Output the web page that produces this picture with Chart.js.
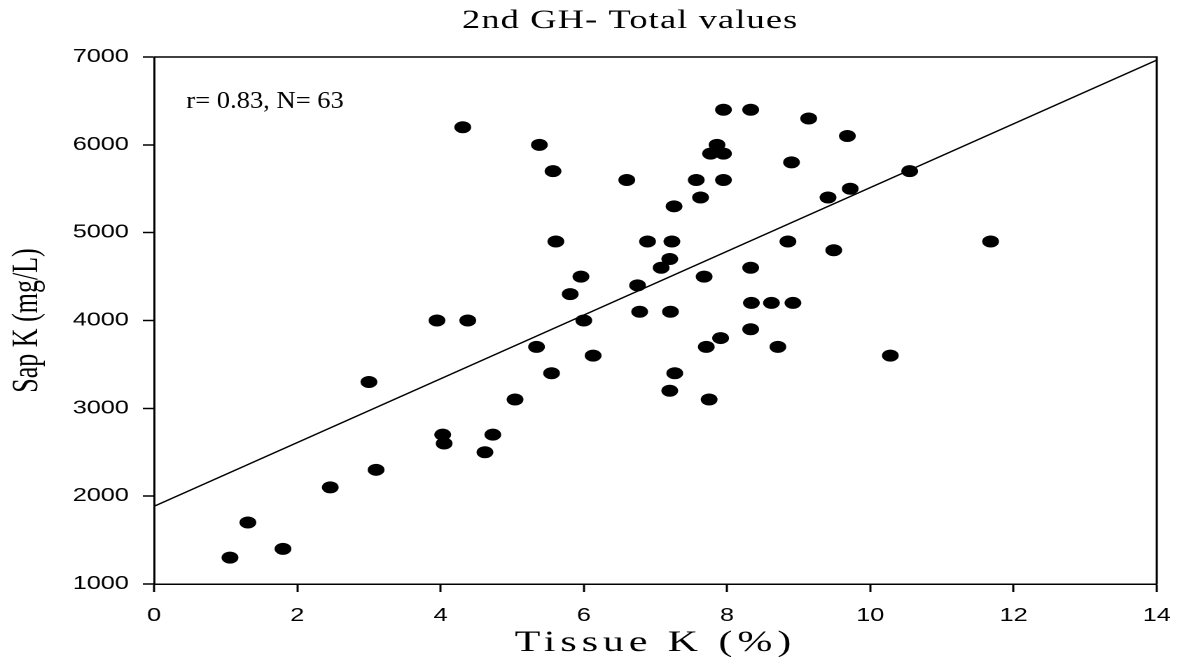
<!DOCTYPE html>
<html>
<head>
<meta charset="utf-8">
<script src="https://cdn.jsdelivr.net/npm/chart.js@4/dist/chart.umd.min.js"></script>
<style>
  html, body { margin: 0; padding: 0; background: #fff; overflow: hidden; }
  /* the original figure is stretched sideways, so draw narrow and scale x */
  #wrap { width: 849px; height: 657px; transform: scaleX(1.40047); transform-origin: 0 0; }
</style>
</head>
<body>
<div id="wrap"><canvas id="chart"></canvas></div>
<script>
// Tissue K (%) and Sap K (mg/L)
var tissueK = [1.06, 1.31, 1.80, 2.46, 3.10, 3.00, 3.95, 4.38, 4.31, 4.03, 4.05, 4.73, 4.62, 5.04, 5.38, 5.57,
  5.61, 5.34, 5.55, 5.81, 5.96, 6.00, 6.13, 6.60, 6.75, 6.78, 6.89, 7.08, 7.20, 7.23, 7.26, 7.21,
  7.20, 7.27, 7.57, 7.63, 7.68, 7.71, 7.75, 7.77, 7.86, 7.95, 7.95, 7.95, 7.91, 8.33, 8.33, 8.34,
  8.33, 8.62, 8.71, 8.85, 8.90, 8.92, 9.14, 9.41, 9.49, 9.68, 9.72, 10.28, 10.55, 11.68];
var sapK = [1300, 1700, 1400, 2100, 2300, 3300, 4000, 4000, 6200, 2700, 2600, 2700, 2500, 3100, 6000, 5700,
  4900, 3700, 3400, 4300, 4500, 4000, 3600, 5600, 4400, 4100, 4900, 4600, 4700, 4900, 5300, 4100,
  3200, 3400, 5600, 5400, 4500, 3700, 3100, 5900, 6000, 5900, 5600, 6400, 3800, 6400, 4600, 4200,
  3900, 4200, 3700, 4900, 5800, 4200, 6300, 5400, 4800, 6100, 5500, 3600, 5700, 4900];

// regression line end points
var fitX = [0, 14];
var fitY = [1885, 6965];

var xTickValues = [0, 2, 4, 6, 8, 10, 12, 14];
var yTickValues = [1000, 2000, 3000, 4000, 5000, 6000, 7000];

var titleText = "2nd GH- Total values";
var xTitleText = "Tissue K (%)";
var yTitleText = "Sap K (mg/L)";
var noteText = "r= 0.83, N= 63";

var serif = "'Liberation Serif', 'Times New Roman', serif";
var sans = "'Liberation Sans', Arial, sans-serif";

var points = tissueK.map(function (v, i) { return { x: v, y: sapK[i] }; });
var fitLine = fitX.map(function (v, i) { return { x: v, y: fitY[i] }; });

// title, x title, note and the box round the plot
var extraText = {
  id: "extraText",
  afterDraw: function (chart) {
    var ctx = chart.ctx;
    var a = chart.chartArea;
    ctx.save();
    ctx.strokeStyle = "#000";
    ctx.lineWidth = 1.5;
    ctx.beginPath();
    ctx.moveTo(a.left, a.top);
    ctx.lineTo(a.right, a.top);
    ctx.lineTo(a.right, a.bottom);
    ctx.stroke();

    ctx.fillStyle = "#000";
    ctx.textBaseline = "alphabetic";

    ctx.textAlign = "center";
    ctx.font = "26px " + serif;
    ctx.letterSpacing = "0.8px";
    ctx.fillText(titleText, 450, 28);

    ctx.font = "30px " + serif;
    ctx.letterSpacing = "3.5px";
    ctx.fillText(xTitleText, (a.left + a.right) / 2, 651);

    // the note is not stretched in the original, undo part of the x scale
    ctx.textAlign = "left";
    ctx.font = "24px " + serif;
    ctx.letterSpacing = "0px";
    ctx.translate(133, 108);
    ctx.scale(0.79, 1);
    ctx.fillText(noteText, 0, 0);
    ctx.restore();
  }
};

var config = {
  type: "scatter",
  data: {
    datasets: [{
      label: "data",
      data: points,
      backgroundColor: "#000",
      borderWidth: 0,
      pointRadius: 6,
      pointHoverRadius: 6,
      order: 1
    },
    {
      type: "line",
      label: "fit",
      data: fitLine,
      borderColor: "#000",
      borderWidth: 1.3,
      pointRadius: 0,
      fill: false,
      order: 2
    }]
  },
  options: {
    responsive: true,
    maintainAspectRatio: false,
    animation: false,
    devicePixelRatio: 2,
    layout: { padding: { left: 0, right: 15, top: 57, bottom: 0 } },
    plugins: {
      legend: { display: false },
      tooltip: { enabled: false },
      title: { display: false }
    },
    scales: {
      x: {
        type: "linear",
        min: 0,
        max: 14,
        afterBuildTicks: function (s) { s.ticks = xTickValues.map(function (v) { return { value: v }; }); },
        afterFit: function (s) { s.height = 73; },
        grid: { display: true, drawOnChartArea: false, drawTicks: true, tickLength: 8, tickColor: "#000", tickWidth: 1.5 },
        border: { display: true, color: "#000", width: 1.5 },
        ticks: {
          color: "#000", font: { family: sans, size: 18 }, padding: 13, maxRotation: 0, autoSkip: false,
          callback: function (v) { return String(v); }
        }
      },
      y: {
        type: "linear",
        min: 1000,
        max: 7000,
        afterBuildTicks: function (s) { s.ticks = yTickValues.map(function (v) { return { value: v }; }); },
        afterFit: function (s) { s.width = 110; },
        grid: { display: true, drawOnChartArea: false, drawTicks: true, tickLength: 8, tickColor: "#000", tickWidth: 1.5 },
        border: { display: true, color: "#000", width: 1.5 },
        ticks: {
          color: "#000", font: { family: sans, size: 18 }, padding: 10, autoSkip: false,
          callback: function (v) { return String(v); }
        },
        title: { display: true, text: yTitleText, color: "#000", font: { family: serif, size: 26 }, padding: { top: 4, bottom: 0 } }
      }
    }
  },
  plugins: [extraText]
};

var chart = new Chart(document.getElementById("chart"), config);
</script>
</body>
</html>
